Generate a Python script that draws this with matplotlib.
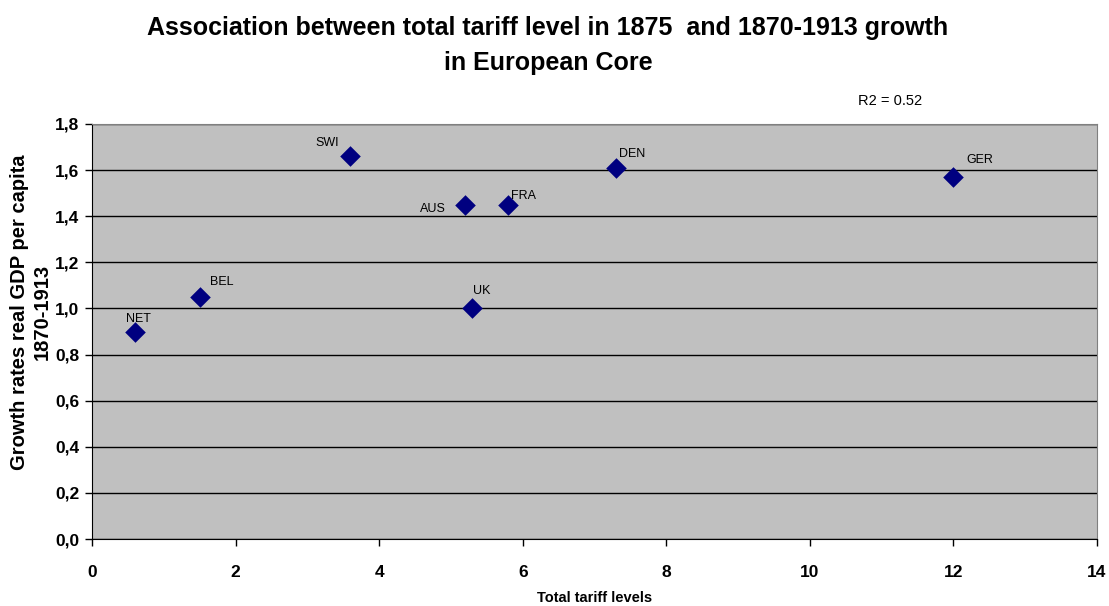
import matplotlib.pyplot as plt
from matplotlib import font_manager

# country codes, tariff level in 1875 and growth of real GDP per capita 1870-1913
countries = ['NET', 'BEL', 'SWI', 'AUS', 'UK', 'FRA', 'DEN', 'GER']
tariff = [0.6, 1.5, 3.6, 5.2, 5.3, 5.8, 7.3, 12.0]
growth = [0.90, 1.05, 1.66, 1.45, 1.00, 1.45, 1.61, 1.57]

x_ticks = [0, 2, 4, 6, 8, 10, 12, 14]
y_ticks = [0.0, 0.2, 0.4, 0.6, 0.8, 1.0, 1.2, 1.4, 1.6, 1.8]

# label offsets in pixels from each point
label_offsets = {
    'NET': (3, 13), 'BEL': (22, 15), 'SWI': (-23, 13), 'AUS': (-32, -4),
    'UK': (9, 17), 'FRA': (15, 9), 'DEN': (16, 14), 'GER': (26, 17),
}

names = {f.name for f in font_manager.fontManager.ttflist}
narrow = 'Liberation Sans Narrow' if 'Liberation Sans Narrow' in names else 'Liberation Sans'

fig = plt.figure(figsize=(11.09, 6.06), dpi=100)
ax = fig.add_axes([92 / 1109, 67 / 606, 1005 / 1109, 415 / 606])
ax.set_facecolor('#C0C0C0')

ax.scatter(tariff, growth, marker='D', s=110, color='#000080', zorder=3, linewidths=0)
for name, x, y in zip(countries, tariff, growth):
    dx, dy = label_offsets[name]
    ax.annotate(name, (x, y), xytext=(dx, dy), textcoords='offset pixels',
                ha='center', va='center', fontsize=9, family='Liberation Sans')

ax.set_xlim(0, 14)
ax.set_ylim(0, 1.8)
ax.set_xticks(x_ticks)
ax.set_yticks(y_ticks)
ax.set_xticklabels([str(t) for t in x_ticks], fontsize=12.5, fontweight='bold', family=narrow)
ax.set_yticklabels([f'{t:.1f}'.replace('.', ',') for t in y_ticks], fontsize=12.5,
                   fontweight='bold', family=narrow)
ax.tick_params(axis='x', direction='out', length=5, width=1, pad=14)
ax.tick_params(axis='y', direction='out', length=5, width=1, pad=4)
ax.yaxis.grid(True, color='black', linewidth=1)
ax.set_axisbelow(True)

for side in ['top', 'right']:
    ax.spines[side].set_color('#808080')
for side in ['left', 'bottom']:
    ax.spines[side].set_color('black')

ax.set_xlabel('Total tariff levels', fontsize=10.5, fontweight='bold', family=narrow, labelpad=8)

fig.text(20 / 1109, 1 - 312 / 606, 'Growth rates real GDP per capita',
         rotation=90, ha='center', va='center', fontsize=14.5, fontweight='bold',
         family='Liberation Sans')
fig.text(42 / 1109, 1 - 312 / 606, '1870-1913',
         rotation=90, ha='center', va='center', fontsize=14.5, fontweight='bold',
         family='Liberation Sans')

fig.text(548 / 1109, 1 - 28 / 606,
         'Association between total tariff level in 1875  and 1870-1913 growth',
         ha='center', va='center', fontsize=18, fontweight='bold', family=narrow)
fig.text(548 / 1109, 1 - 63 / 606, 'in European Core',
         ha='center', va='center', fontsize=18, fontweight='bold', family=narrow)

fig.text(890 / 1109, 1 - 101 / 606, 'R2 = 0.52', ha='center', va='center',
         fontsize=10.5, family='Liberation Sans')

fig.savefig('out.png', dpi=100)
